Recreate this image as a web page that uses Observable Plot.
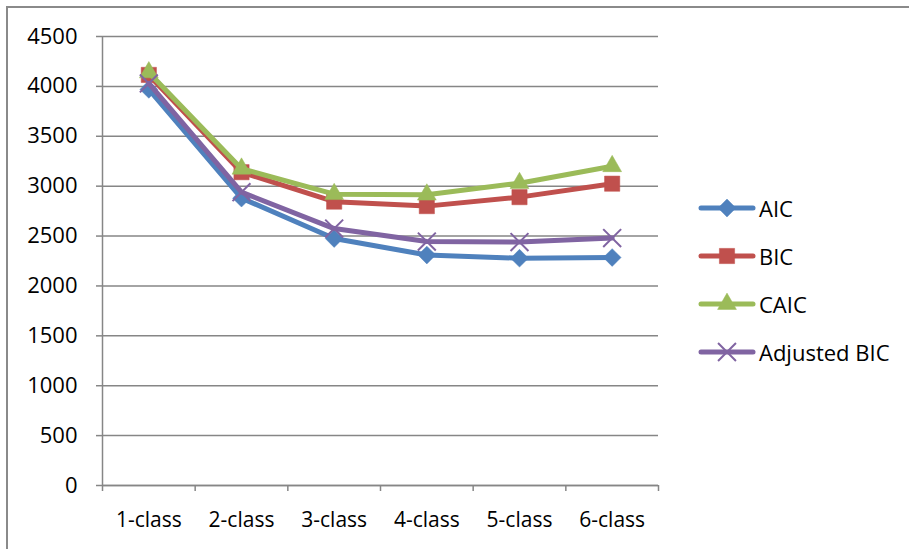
<!DOCTYPE html>
<html>
<head>
<meta charset="utf-8">
<script src="https://cdn.jsdelivr.net/npm/d3@7"></script>
<script src="https://cdn.jsdelivr.net/npm/@observablehq/plot@0.6"></script>
<style>
  body { margin: 0; background: #fff; }
  #wrap { position: relative; width: 909px; height: 549px; overflow: hidden; font-family: "Open Sans", sans-serif; }
  #frame { position: absolute; left: 6px; top: 6px; width: 960px; height: 600px; border-left: 2px solid #8a8a8a; border-top: 2px solid #8a8a8a; }
  #chart { position: absolute; left: 0; top: 0; }
  #legend { position: absolute; left: 698px; top: 184px; }
  .item { display: flex; align-items: center; height: 48px; }
  .item svg { display: block; }
  .item span { font-size: 22px; color: #000; margin-left: 3px; line-height: 26px; }
</style>
</head>
<body>
<div id="wrap">
  <div id="frame"></div>
  <div id="chart"></div>
  <div id="legend"></div>
</div>
<script>
// Number of latent classes on the x axis
const classes = ["1-class", "2-class", "3-class", "4-class", "5-class", "6-class"];

// Information criteria per model
const aic    = [3970, 2880, 2475, 2310, 2278, 2285];
const bic    = [4115, 3140, 2845, 2800, 2890, 3025];
const caic   = [4140, 3175, 2920, 2915, 3030, 3200];
const adjBic = [4030, 2940, 2575, 2445, 2440, 2480];

const yTicks = [0, 500, 1000, 1500, 2000, 2500, 3000, 3500, 4000, 4500];

// Series styling
const seriesNames   = ["AIC", "BIC", "CAIC", "Adjusted BIC"];
const seriesValues  = [aic, bic, caic, adjBic];
const seriesColors  = ["#4F81BD", "#C0504D", "#9BBB59", "#8064A2"];
const seriesSymbols = ["diamond2", "square", "triangle", "times"];
const seriesR       = [8, 8.6, 7, 8.2];

const grey = "#868686";

const series = seriesNames.map((name, s) => ({
  name,
  color: seriesColors[s],
  symbol: seriesSymbols[s],
  r: seriesR[s],
  rows: seriesValues[s].map((v, i) => ({ x: i + 1, value: v, series: name }))
}));

const seriesMarks = series.flatMap(s => {
  const filled = s.symbol !== "times";
  return [
    Plot.line(s.rows, { x: "x", y: "value", stroke: s.color, strokeWidth: 5, strokeLinejoin: "round", strokeLinecap: "round" }),
    Plot.dot(s.rows, {
      x: "x", y: "value", symbol: () => s.symbol, r: s.r,
      fill: filled ? s.color : "none",
      stroke: s.color,
      strokeWidth: filled ? 0.5 : 2
    })
  ];
});

const chart = Plot.plot({
  width: 909,
  height: 549,
  marginLeft: 102,
  marginRight: 251,
  marginTop: 36,
  marginBottom: 64,
  style: { fontFamily: "Open Sans, sans-serif", fontSize: "21px", color: "#000", background: "transparent" },
  x: { domain: [0.5, classes.length + 0.5] },
  y: { domain: [0, 4500] },
  symbol: { type: "identity" },
  marks: [
    Plot.gridY(yTicks, { stroke: grey, strokeOpacity: 1, strokeWidth: 1.5 }),
    Plot.ruleX([0.5], { stroke: grey, strokeWidth: 1.5 }),
    Plot.ruleY([0], { stroke: grey, strokeWidth: 1.5 }),
    Plot.axisY(yTicks, { tickSize: 6, tickPadding: 19, fontSize: 22, tickFormat: d3.format("d"), stroke: grey, strokeWidth: 1.5, fill: "#000", label: null }),
    Plot.axisX(d3.range(0.5, classes.length + 1, 1), { tickSize: 6, tickFormat: () => "", stroke: grey, strokeWidth: 1.5, label: null }),
    Plot.axisX(d3.range(1, classes.length + 1), { tickSize: 0, tickPadding: 27, tickFormat: i => classes[i - 1], fill: "#000", label: null }),
    ...seriesMarks
  ]
});
document.getElementById("chart").appendChild(chart);

// Legend: line with marker, then the series name
const symbolTypes = { diamond2: d3.symbolDiamond2, square: d3.symbolSquare, triangle: d3.symbolTriangle, times: d3.symbolTimes };
const legend = d3.select("#legend");
series.forEach(s => {
  const item = legend.append("div").attr("class", "item");
  const svg = item.append("svg").attr("width", 58).attr("height", 24);
  svg.append("line").attr("x1", 3).attr("x2", 55).attr("y1", 12).attr("y2", 12)
    .attr("stroke", s.color).attr("stroke-width", 5).attr("stroke-linecap", "round");
  const filled = s.symbol !== "times";
  svg.append("path")
    .attr("transform", "translate(29,12)")
    .attr("d", d3.symbol(symbolTypes[s.symbol], Math.PI * s.r * s.r)())
    .attr("fill", filled ? s.color : "none")
    .attr("stroke", s.color)
    .attr("stroke-width", filled ? 0.5 : 2);
  item.append("span").text(s.name);
});
</script>
</body>
</html>
